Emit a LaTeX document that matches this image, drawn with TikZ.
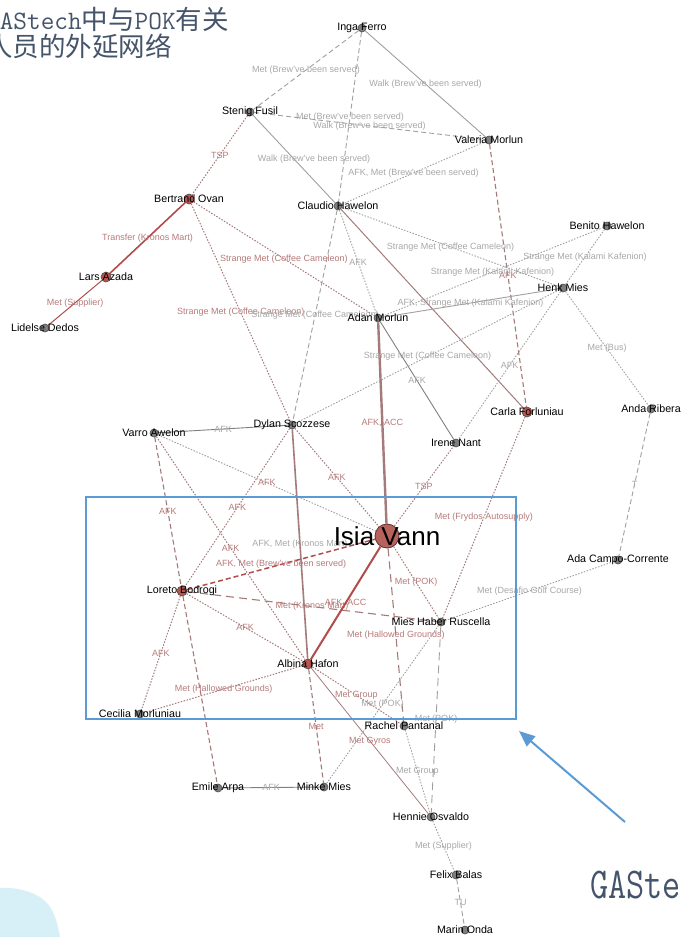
\documentclass[tikz,border=0pt]{standalone}
\usepackage{fontspec}
\setsansfont{Liberation Sans}
\newfontfamily\cjkfont{Noto Sans CJK SC}
\usetikzlibrary{arrows.meta,backgrounds}
\definecolor{titlegray}{HTML}{44546A}
\definecolor{boxblue}{HTML}{5B9BD5}
\definecolor{blobcyan}{HTML}{D7EFF6}
\definecolor{edgegray}{HTML}{A0A0A0}
\definecolor{edgebrown}{HTML}{A57A7A}
\definecolor{edgered}{HTML}{B24C4A}
\definecolor{labgray}{HTML}{A8A8A8}
\definecolor{labred}{HTML}{B87A7A}
\definecolor{nodegray}{HTML}{7E7E7E}
\definecolor{nodered}{HTML}{B85450}
\definecolor{isiared}{HTML}{B8625E}
\newcommand{\latn}[1]{{\ttfamily #1}}
\tikzset{
  plab/.style={font=\sffamily\fontsize{10.7}{12}\selectfont,text=black,inner sep=0pt},
  pers/.style={circle,draw=black!70,fill=nodegray,line width=0.6pt,inner sep=0pt,minimum size=8pt,label={[plab]center:#1}},
  pokred/.style={pers=#1,fill=nodered,minimum size=10pt},
  hub/.style={circle,draw=black!50!isiared,fill=isiared,line width=0.8pt,inner sep=0pt,minimum size=24pt,
    label={[plab,font=\sffamily\fontsize{26}{28}\selectfont]center:#1}},
  gsolid/.style={draw=edgegray,line width=0.9pt},
  gdash/.style={draw=edgegray,line width=0.9pt,dash pattern=on 5pt off 3pt},
  gdot/.style={draw=edgegray,line width=0.9pt,dash pattern=on 1.5pt off 1.5pt},
  rdot/.style={draw=edgebrown,line width=1pt,dash pattern=on 1.5pt off 1.5pt},
  rdash/.style={draw=edgebrown,line width=1.1pt,dash pattern=on 5pt off 3pt},
  bsolid/.style={draw=edgebrown,line width=1.2pt},
  rsolid/.style={draw=edgered,line width=1.6pt},
  elab/.style={midway,font=\sffamily\fontsize{9}{10}\selectfont,text=labgray,inner sep=0pt},
  rlab/.style={elab,text=labred}
}
\begin{document}
\begin{tikzpicture}[x=1pt,y=-1pt]
	\useasboundingbox (0,0) rectangle (682,937);
	\clip (0,0) rectangle (682,937);
	% People
	\node[pers={Inga Ferro}] (inga) at (362,28) {};
	\node[pers={Stenig Fusil}] (stenig) at (250,112) {};
	\node[pers={Valeria Morlun}] (valeria) at (489,140) {};
	\node[pokred={Bertrand Ovan}] (bertrand) at (189,199) {};
	\node[pers={Claudio Hawelon}] (claudio) at (338,206) {};
	\node[pokred={Lars Azada}] (lars) at (106,277) {};
	\node[pers={Lidelse Dedos}] (lidelse) at (45,328) {};
	\node[pers={Benito Hawelon}] (benito) at (607,226) {};
	\node[pers={Henk Mies}] (henk) at (563,288) {};
	\node[pers={Adan Morlun}] (adan) at (378,318) {};
	\node[pers={Anda Ribera}] (anda) at (651,409) {};
	\node[pokred={Carla Forluniau}] (carla) at (527,412) {};
	\node[pers={Varro Awelon}] (varro) at (154,433) {};
	\node[pers={Dylan Scozzese}] (dylan) at (292,425) {};
	\node[pers={Irene Nant}] (irene) at (456,443) {};
	\node[hub={Isia Vann}] (isia) at (387,536) {};
	\node[pokred={Loreto Bodrogi}] (loreto) at (182,591) {};
	\node[pers={Ada Campo-Corrente}] (ada) at (618,560) {};
	\node[pers={Mies Haber Ruscella}] (ruscella) at (441,622) {};
	\node[pokred={Albina Hafon}] (albina) at (308,664) {};
	\node[pers={Cecilia Morluniau}] (cecilia) at (140,714) {};
	\node[pers={Rachel Pantanal}] (rachel) at (404,726) {};
	\node[pers={Emile Arpa}] (emile) at (218,788) {};
	\node[pers={Minke Mies}] (minke) at (324,787) {};
	\node[pers={Hennie Osvaldo}] (hennie) at (431,817) {};
	\node[pers={Felix Balas}] (felix) at (456,875) {};
	\node[pers={Marin Onda}] (marin) at (465,930) {};
	%Ties
	\begin{scope}[on background layer]
	\fill[white] (0,0) rectangle (682,937);
	\fill[blobcyan] (0,888) .. controls (20,887) and (38,893) .. (48,904) .. controls (55,913) and (58,926) .. (60,937) -- (0,937) -- cycle;
	\draw[gdash] (inga) -- node[elab] {Met (Brew've been served)} (stenig);
	\draw[gsolid] (inga) -- node[elab] {Walk (Brew've been served)} (valeria);
	\draw[gdash] (inga) -- node[elab] {Met (Brew've been served)} (claudio);
	\draw[gdash] (stenig) -- node[elab] {Walk (Brew've been served)} (valeria);
	\draw[gsolid] (stenig) -- node[elab,xshift=20pt] {Walk (Brew've been served)} (claudio);
	\draw[rdot] (stenig) -- node[rlab] {TSP} (bertrand);
	\draw[gdot] (claudio) -- node[elab] {AFK, Met (Brew've been served)} (valeria);
	\draw[rdash] (valeria) -- node[rlab] {AFK} (carla);
	\draw[rsolid] (bertrand) -- node[rlab] {Transfer (Kronos Mart)} (lars);
	\draw[rsolid,line width=1pt] (lars) -- node[rlab] {Met (Supplier)} (lidelse);
	\draw[rdot] (bertrand) -- node[rlab] {Strange Met (Coffee Cameleon)} (adan);
	\draw[rdot] (bertrand) -- node[rlab] {Strange Met (Coffee Cameleon)} (dylan);
	\draw[gdash] (claudio) -- node[elab] {Strange Met (Coffee Cameleon)} (dylan);
	\draw[gdot] (claudio) -- node[elab] {AFK} (adan);
	\draw[gdot] (claudio) -- node[elab] {Strange Met (Coffee Cameleon)} (henk);
	\draw[bsolid,line width=1pt] (claudio) -- (carla);
	\draw[gdot] (adan) -- node[elab] {Strange Met (Kalami Kafenion)} (benito);
	\draw[gsolid] (adan) -- node[elab] {AFK, Strange Met (Kalami Kafenion)} (henk);
	\draw[gdot] (henk) -- node[elab] {Strange Met (Kalami Kafenion)} (benito);
	\draw[gdot] (henk) -- node[elab] {Met (Bus)} (anda);
	\draw[gdot] (henk) -- node[elab] {AFK} (irene);
	\draw[bsolid,line width=2.4pt] (adan) -- node[rlab] {AFK, ACC} (isia);
	\draw[gsolid,draw=gray] (adan) -- node[elab] {AFK} (irene);
	\draw[gdot] (dylan) -- node[elab] {Strange Met (Coffee Cameleon)} (henk);
	\draw[gsolid,draw=gray] (dylan) -- node[elab] {AFK} (varro);
	\draw[rdot] (dylan) -- node[rlab] {AFK} (isia);
	\draw[bsolid,line width=1.6pt] (dylan) -- node[elab] {AFK, Met (Kronos Mart)} (albina);
	\draw[rdot] (dylan) -- node[rlab] {AFK} (loreto);
	\draw[gdot] (varro) -- node[rlab] {AFK} (isia);
	\draw[rdash] (varro) -- node[rlab] {AFK} (loreto);
	\draw[rdot] (varro) -- node[rlab] {AFK} (albina);
	\draw[rdash,draw=edgered,line width=1.5pt] (loreto) -- node[rlab] {AFK, Met (Brew've been served)} (isia);
	\draw[rdash,dash pattern=on 8pt off 5pt] (loreto) -- node[rlab] {Met (Kronos Mart)} (ruscella);
	\draw[rdot] (loreto) -- node[rlab] {AFK} (albina);
	\draw[rdot] (loreto) -- node[rlab] {AFK} (cecilia);
	\draw[rdash] (loreto) -- (emile);
	\draw[rsolid,line width=2pt] (albina) -- node[rlab] {AFK, ACC} (isia);
	\draw[rdot] (albina) -- node[rlab] {Met (Hallowed Grounds)} (cecilia);
	\draw[rdash] (albina) -- node[rlab] {Met} (minke);
	\draw[rdot] (albina) -- node[rlab] {Met Group} (rachel);
	\draw[bsolid,line width=0.8pt] (albina) -- node[rlab] {Met Gyros} (hennie);
	\draw[rdot] (isia) -- node[rlab] {Met (POK)} (ruscella);
	\draw[rdash,dash pattern=on 8pt off 5pt] (isia) -- node[rlab] {Met (Hallowed Grounds)} (rachel);
	\draw[gdot] (ruscella) -- node[elab] {Met (POK)} (minke);
	\draw[gdash,dash pattern=on 8pt off 5pt] (ruscella) -- node[elab] {Met (POK)} (hennie);
	\draw[gdot] (ruscella) -- node[elab] {Met (Desafio Golf Course)} (ada);
	\draw[rdot] (carla) -- node[rlab] {Met (Frydos Autosupply)} (ruscella);
	\draw[rdot] (isia) -- node[rlab] {TSP} (irene);
	\draw[gdash] (anda) -- node[elab] {T} (ada);
	\draw[gdot] (rachel) -- node[elab] {Met Group} (hennie);
	\draw[gsolid,draw=gray] (minke) -- node[elab] {AFK} (emile);
	\draw[gdot] (hennie) -- node[elab] {Met (Supplier)} (felix);
	\draw[gdash] (felix) -- node[elab] {TU} (marin);
	\end{scope}
	%Focus box
	\node[draw=boxblue,line width=1.2pt,minimum width=430pt,minimum height=222pt,inner sep=0pt] (focus) at (301,608) {};
	\coordinate (arrowtail) at (625,822);
	\coordinate (arrowtip) at (519,731);
	\draw[boxblue,line width=2pt,arrows={-Triangle[length=16pt,width=13pt]}] (arrowtail) -- (arrowtip);
	%Titles
	\node[anchor=base west,inner sep=0pt,text=titlegray,font=\fontsize{26.5}{27}\selectfont] (title1) at (-14,29) {\latn{GAStech}{\cjkfont 中与}\latn{POK}{\cjkfont 有关}};
	\node[anchor=base west,inner sep=0pt,text=titlegray,font=\fontsize{26.5}{27}\selectfont] (title2) at (-14,56) {{\cjkfont 人员的外延网络}};
	\node[anchor=base west,inner sep=0pt,text=titlegray] (subtitle) at (590,898) {{\ttfamily\fontsize{44}{44}\selectfont\scalebox{0.8}[1]{GAStech}}};
\end{tikzpicture}
\end{document}
